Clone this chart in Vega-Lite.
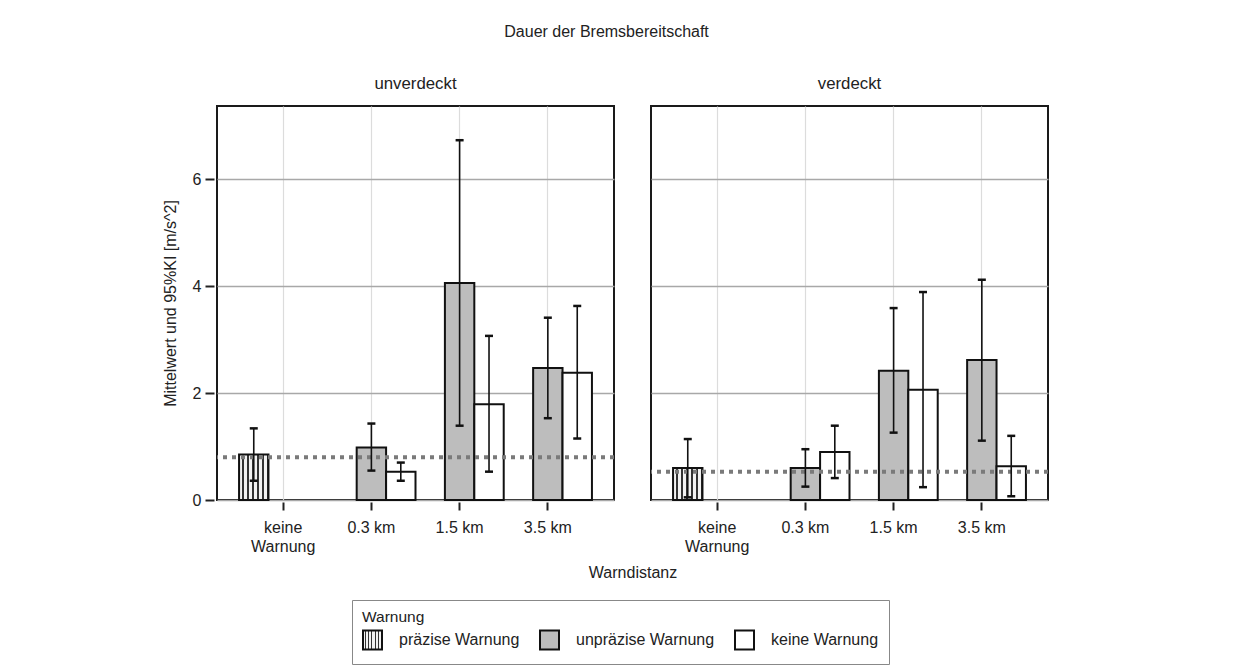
{
  "$schema": "https://vega.github.io/schema/vega-lite/v6.json",
  "background": "white",
  "padding": {"left": 162, "top": 24, "right": 10, "bottom": 5},
  "title": {
    "text": "Dauer der Bremsbereitschaft",
    "fontSize": 16,
    "fontWeight": "normal",
    "font": "Liberation Sans",
    "color": "#222",
    "anchor": "middle",
    "offset": 36
  },
  "data": {
    "values": [
      {"Sicht": "unverdeckt", "Warndistanz": "keine Warnung", "Warnung": "präzise Warnung", "Mittelwert": 0.85, "KI_unten": 0.36, "KI_oben": 1.34},
      {"Sicht": "unverdeckt", "Warndistanz": "0.3 km", "Warnung": "unpräzise Warnung", "Mittelwert": 0.98, "KI_unten": 0.55, "KI_oben": 1.43},
      {"Sicht": "unverdeckt", "Warndistanz": "0.3 km", "Warnung": "keine Warnung", "Mittelwert": 0.53, "KI_unten": 0.36, "KI_oben": 0.70},
      {"Sicht": "unverdeckt", "Warndistanz": "1.5 km", "Warnung": "unpräzise Warnung", "Mittelwert": 4.06, "KI_unten": 1.39, "KI_oben": 6.73},
      {"Sicht": "unverdeckt", "Warndistanz": "1.5 km", "Warnung": "keine Warnung", "Mittelwert": 1.79, "KI_unten": 0.53, "KI_oben": 3.07},
      {"Sicht": "unverdeckt", "Warndistanz": "3.5 km", "Warnung": "unpräzise Warnung", "Mittelwert": 2.47, "KI_unten": 1.53, "KI_oben": 3.41},
      {"Sicht": "unverdeckt", "Warndistanz": "3.5 km", "Warnung": "keine Warnung", "Mittelwert": 2.38, "KI_unten": 1.15, "KI_oben": 3.63},
      {"Sicht": "unverdeckt", "Referenz": 0.80},
      {"Sicht": "verdeckt", "Warndistanz": "keine Warnung", "Warnung": "präzise Warnung", "Mittelwert": 0.60, "KI_unten": 0.05, "KI_oben": 1.14},
      {"Sicht": "verdeckt", "Warndistanz": "0.3 km", "Warnung": "unpräzise Warnung", "Mittelwert": 0.60, "KI_unten": 0.25, "KI_oben": 0.95},
      {"Sicht": "verdeckt", "Warndistanz": "0.3 km", "Warnung": "keine Warnung", "Mittelwert": 0.90, "KI_unten": 0.41, "KI_oben": 1.39},
      {"Sicht": "verdeckt", "Warndistanz": "1.5 km", "Warnung": "unpräzise Warnung", "Mittelwert": 2.42, "KI_unten": 1.26, "KI_oben": 3.59},
      {"Sicht": "verdeckt", "Warndistanz": "1.5 km", "Warnung": "keine Warnung", "Mittelwert": 2.06, "KI_unten": 0.24, "KI_oben": 3.89},
      {"Sicht": "verdeckt", "Warndistanz": "3.5 km", "Warnung": "unpräzise Warnung", "Mittelwert": 2.62, "KI_unten": 1.11, "KI_oben": 4.12},
      {"Sicht": "verdeckt", "Warndistanz": "3.5 km", "Warnung": "keine Warnung", "Mittelwert": 0.63, "KI_unten": 0.07, "KI_oben": 1.20},
      {"Sicht": "verdeckt", "Referenz": 0.53}
    ]
  },
  "facet": {
    "column": {
      "field": "Sicht",
      "type": "nominal",
      "sort": ["unverdeckt", "verdeckt"],
      "title": "Warndistanz",
      "header": {
        "titleOrient": "bottom",
        "labelOrient": "top",
        "titleFontSize": 16,
        "titleFont": "Liberation Sans",
        "titleFontWeight": "normal",
        "titleColor": "#222",
        "titlePadding": 1,
        "labelFontSize": 16.8,
        "labelFont": "Liberation Sans",
        "labelColor": "#222",
        "labelPadding": 12
      }
    }
  },
  "spacing": 31,
  "spec": {
    "width": 397,
    "height": 394,
    "layer": [
      {
        "transform": [{"filter": "isValid(datum.Mittelwert)"}],
        "mark": {"type": "bar", "stroke": "#111", "strokeWidth": 2},
        "encoding": {
          "x": {
            "field": "Warndistanz",
            "type": "nominal",
            "sort": ["keine Warnung", "0.3 km", "1.5 km", "3.5 km"],
            "scale": {"paddingInner": 0, "paddingOuter": 0.25},
            "title": null,
            "axis": {
              "bandPosition": 0.5,
              "labelAngle": 0,
              "labelExpr": "datum.value == 'keine Warnung' ? ['keine', 'Warnung'] : datum.label",
              "labelLineHeight": 19,
              "labelBaseline": "top",
              "labelPadding": 9,
              "tickSize": 8,
              "tickWidth": 2,
              "tickColor": "#222",
              "domain": false,
              "grid": true,
              "gridColor": "#dcdcdc",
              "gridWidth": 1.2
            }
          },
          "xOffset": {
            "field": "Warnung",
            "type": "nominal",
            "sort": ["präzise Warnung", "unpräzise Warnung", "keine Warnung"],
            "scale": {"paddingInner": 0, "paddingOuter": 0}
          },
          "y": {
            "field": "Mittelwert",
            "type": "quantitative",
            "title": "Mittelwert und 95%KI [m/s^2]",
            "scale": {"domain": [0, 7.37], "nice": false, "zero": true},
            "axis": {
              "values": [0, 2, 4, 6],
              "domain": false,
              "tickSize": 9,
              "tickWidth": 2,
              "tickColor": "#222",
              "labelPadding": 4,
              "grid": true,
              "gridColor": "#a8a8a8",
              "gridWidth": 1.5,
              "titlePadding": 14
            }
          },
          "fill": {
            "field": "Warnung",
            "type": "nominal",
            "sort": ["präzise Warnung", "unpräzise Warnung", "keine Warnung"],
            "scale": {
              "domain": ["präzise Warnung", "unpräzise Warnung", "keine Warnung"],
              "range": [
                {"expr": "{gradient: 'linear', x1: 0, y1: 0, x2: 1, y2: 0, stops: [{offset: 0, color: '#f2f2f2'}, {offset: 0.11, color: '#f2f2f2'}, {offset: 0.11, color: '#333333'}, {offset: 0.167, color: '#333333'}, {offset: 0.167, color: '#f2f2f2'}, {offset: 0.278, color: '#f2f2f2'}, {offset: 0.278, color: '#333333'}, {offset: 0.333, color: '#333333'}, {offset: 0.333, color: '#f2f2f2'}, {offset: 0.444, color: '#f2f2f2'}, {offset: 0.444, color: '#333333'}, {offset: 0.5, color: '#333333'}, {offset: 0.5, color: '#f2f2f2'}, {offset: 0.611, color: '#f2f2f2'}, {offset: 0.611, color: '#333333'}, {offset: 0.667, color: '#333333'}, {offset: 0.667, color: '#f2f2f2'}, {offset: 0.778, color: '#f2f2f2'}, {offset: 0.778, color: '#333333'}, {offset: 0.833, color: '#333333'}, {offset: 0.833, color: '#f2f2f2'}, {offset: 0.944, color: '#f2f2f2'}, {offset: 0.944, color: '#333333'}, {offset: 1, color: '#333333'}]}"},
                "#bdbdbd",
                "#ffffff"
              ]
            },
            "legend": {
              "title": "Warnung",
              "orient": "none",
              "legendX": 135,
              "legendY": 494,
              "direction": "horizontal",
              "symbolType": "square",
              "symbolSize": 361,
              "symbolStrokeColor": "#111",
              "symbolStrokeWidth": 2,
              "symbolOpacity": 1,
              "labelFontSize": 16,
              "labelFont": "Liberation Sans",
              "labelColor": "#222",
              "labelOffset": 16,
              "columnPadding": 16,
              "titleFontSize": 15.5,
              "titleFont": "Liberation Sans",
              "titleFontWeight": "normal",
              "titleColor": "#222",
              "titlePadding": 4,
              "padding": 10,
              "strokeColor": "#888",
              "fillColor": "white"
            }
          }
        }
      },
      {
        "transform": [{"filter": "isValid(datum.Referenz)"}],
        "mark": {"type": "rule", "stroke": "#7a7a7a", "strokeWidth": 4, "strokeDash": [4, 5]},
        "encoding": {
          "y": {"field": "Referenz", "type": "quantitative", "title": "Mittelwert und 95%KI [m/s^2]"}
        }
      },
      {
        "transform": [{"filter": "isValid(datum.Mittelwert)"}],
        "mark": {"type": "rule", "stroke": "#111", "strokeWidth": 1.6},
        "encoding": {
          "x": {"field": "Warndistanz", "type": "nominal", "sort": ["keine Warnung", "0.3 km", "1.5 km", "3.5 km"], "title": null},
          "xOffset": {"field": "Warnung", "type": "nominal", "sort": ["präzise Warnung", "unpräzise Warnung", "keine Warnung"]},
          "y": {"field": "KI_unten", "type": "quantitative", "title": "Mittelwert und 95%KI [m/s^2]"},
          "y2": {"field": "KI_oben"}
        }
      },
      {
        "transform": [{"filter": "isValid(datum.Mittelwert)"}],
        "mark": {"type": "tick", "color": "#111", "size": 8, "thickness": 2.5, "opacity": 1},
        "encoding": {
          "x": {"field": "Warndistanz", "type": "nominal", "sort": ["keine Warnung", "0.3 km", "1.5 km", "3.5 km"], "title": null},
          "xOffset": {"field": "Warnung", "type": "nominal", "sort": ["präzise Warnung", "unpräzise Warnung", "keine Warnung"]},
          "y": {"field": "KI_unten", "type": "quantitative", "title": "Mittelwert und 95%KI [m/s^2]"}
        }
      },
      {
        "transform": [{"filter": "isValid(datum.Mittelwert)"}],
        "mark": {"type": "tick", "color": "#111", "size": 8, "thickness": 2.5, "opacity": 1},
        "encoding": {
          "x": {"field": "Warndistanz", "type": "nominal", "sort": ["keine Warnung", "0.3 km", "1.5 km", "3.5 km"], "title": null},
          "xOffset": {"field": "Warnung", "type": "nominal", "sort": ["präzise Warnung", "unpräzise Warnung", "keine Warnung"]},
          "y": {"field": "KI_oben", "type": "quantitative", "title": "Mittelwert und 95%KI [m/s^2]"}
        }
      }
    ]
  },
  "config": {
    "font": "Liberation Sans",
    "view": {"stroke": "#1a1a1a", "strokeWidth": 2},
    "axis": {
      "labelFontSize": 16,
      "labelFont": "Liberation Sans",
      "labelColor": "#222",
      "titleFontSize": 16,
      "titleFont": "Liberation Sans",
      "titleFontWeight": "normal",
      "titleColor": "#222"
    }
  }
}
